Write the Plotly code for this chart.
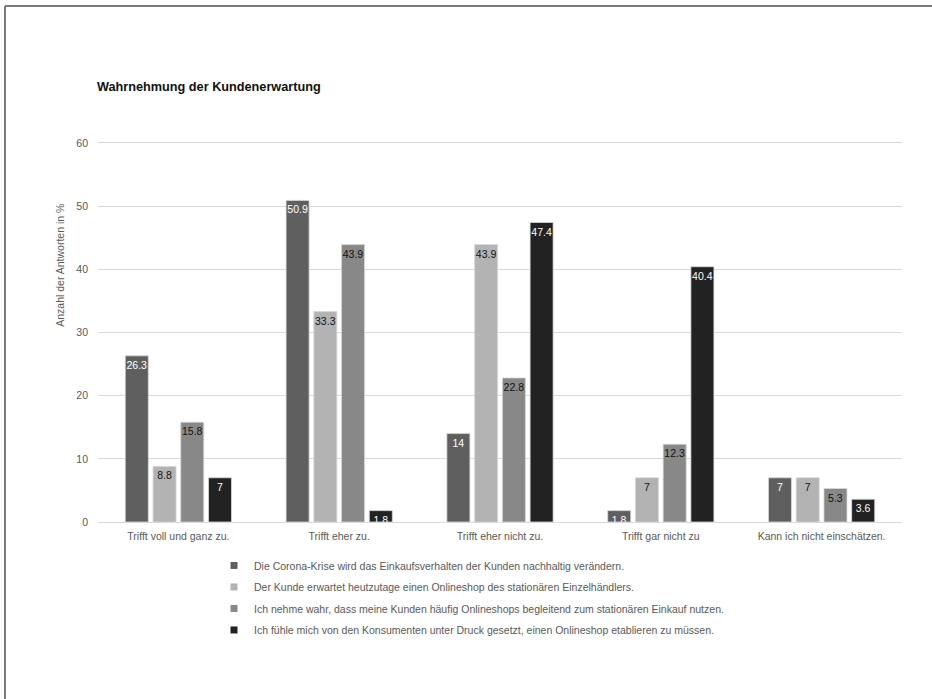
import plotly.graph_objects as go

categories = [
    "Trifft voll und ganz zu.",
    "Trifft eher zu.",
    "Trifft eher nicht zu.",
    "Trifft gar nicht zu",
    "Kann ich nicht einschätzen.",
]
series_names = [
    "Die Corona-Krise wird das Einkaufsverhalten der Kunden nachhaltig verändern.",
    "Der Kunde erwartet heutzutage einen Onlineshop des stationären Einzelhändlers.",
    "Ich nehme wahr, dass meine Kunden häufig Onlineshops begleitend zum stationären Einkauf nutzen.",
    "Ich fühle mich von den Konsumenten unter Druck gesetzt, einen Onlineshop etablieren zu müssen.",
]
corona_values = [26.3, 50.9, 14, 1.8, 7]
onlineshop_values = [8.8, 33.3, 43.9, 7, 7]
begleitend_values = [15.8, 43.9, 22.8, 12.3, 5.3]
druck_values = [7, 1.8, 47.4, 40.4, 3.6]

series_values = [corona_values, onlineshop_values, begleitend_values, druck_values]
bar_colors = ["#5f5f5f", "#b3b3b3", "#888888", "#222222"]
text_colors = ["#ffffff", "#111111", "#111111", "#ffffff"]

FONT = "Liberation Sans, Arial, sans-serif"
GREY_TEXT = "#595959"

fig = go.Figure()
for i, (name, vals, col, tcol) in enumerate(zip(series_names, series_values, bar_colors, text_colors)):
    fig.add_trace(go.Bar(
        x=categories,
        y=vals,
        name=name,
        legendgroup=f"g{i}",
        showlegend=False,
        marker=dict(color=col, line=dict(color="#d8d8d8", width=0.8)),
        text=[f"{v:g}" for v in vals],
        textposition="inside",
        insidetextanchor="end",
        constraintext="none",
        textangle=0,
        textfont=dict(family=FONT, size=10.5, color=tcol),
        hoverinfo="skip",
    ))

# legend entries with small square keys
for i, (name, col) in enumerate(zip(series_names, bar_colors)):
    fig.add_trace(go.Scatter(
        x=[None], y=[None], mode="markers", name=name,
        legendgroup=f"g{i}", showlegend=True,
        marker=dict(symbol="square", size=7, color=col),
        hoverinfo="skip",
    ))

# frame along the top and left edges of the chart
fig.add_shape(type="line", xref="paper", yref="paper",
              x0=-0.1157, x1=1.04, y0=1.3543, y1=1.3543,
              line=dict(color="#7a7a7a", width=2))
fig.add_shape(type="line", xref="paper", yref="paper",
              x0=-0.1157, x1=-0.1157, y0=-0.47, y1=1.3543,
              line=dict(color="#7a7a7a", width=2))

fig.add_annotation(
    text="Anzahl der Antworten in %", textangle=-90,
    xref="paper", yref="paper", x=-0.0473, y=0.675,
    xanchor="center", yanchor="middle",
    showarrow=False, font=dict(family=FONT, size=10.5, color=GREY_TEXT),
)

fig.update_layout(
    width=932, height=699,
    paper_bgcolor="white", plot_bgcolor="white",
    margin=dict(l=98, r=30, t=141, b=177),
    barmode="group", bargap=0.31, bargroupgap=0.17,
    title=dict(text="<b>Wahrnehmung der Kundenerwartung</b>",
               x=97 / 932, xanchor="left", y=1 - 87 / 699, yanchor="middle",
               font=dict(family=FONT, size=12.7, color="#111111")),
    font=dict(family=FONT, size=10.5, color=GREY_TEXT),
    xaxis=dict(showgrid=False, ticks="", showline=False, ticklabelstandoff=6,
               tickfont=dict(family=FONT, size=10.5, color=GREY_TEXT)),
    yaxis=dict(range=[0, 60.3], tickvals=[0, 10, 20, 30, 40, 50, 60],
               gridcolor="#d9d9d9", gridwidth=1,
               zeroline=True, zerolinecolor="#d9d9d9", zerolinewidth=1,
               ticks="", showline=False, ticklabelstandoff=9,
               tickfont=dict(family=FONT, size=10.5, color=GREY_TEXT)),
    legend=dict(orientation="v", x=(214 - 98) / 804, xanchor="left",
                y=-0.076, yanchor="top",
                font=dict(family=FONT, size=10.5, color=GREY_TEXT),
                itemwidth=30, tracegroupgap=2.5, bgcolor="rgba(0,0,0,0)"),
    showlegend=True,
)

fig.write_html("out.html")
